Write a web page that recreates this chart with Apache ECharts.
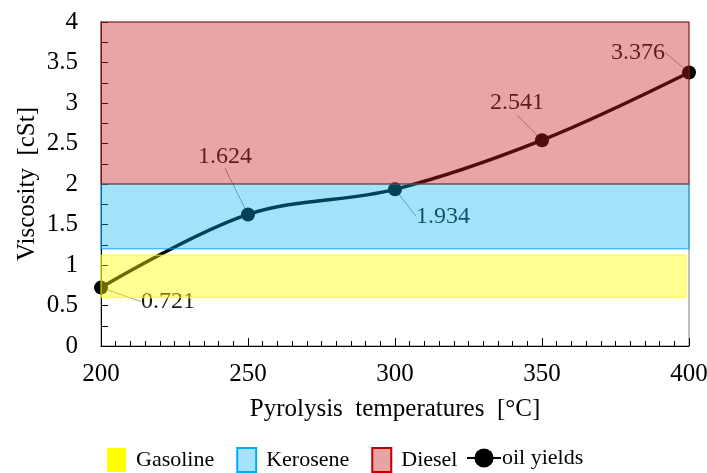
<!DOCTYPE html>
<html>
<head>
<meta charset="utf-8">
<script src="https://cdn.jsdelivr.net/npm/echarts@6/dist/echarts.min.js"></script>
<style>html,body{margin:0;padding:0;background:#fff}#c{width:707px;height:473px}</style>
</head>
<body>
<div id="c"></div>
<script>
// ---- data ----
const temperatures = [200, 250, 300, 350, 400];
const viscosity = [0.721, 1.624, 1.934, 2.541, 3.376];
const bandNames = ['Gasoline', 'Kerosene', 'Diesel'];
const bandStart = [200, 200, 200];
const bandEnd = [399, 400, 400];
const bandLow = [0.6, 1.2, 2.0];
const bandHigh = [1.12, 2.0, 4.0];
const xTicks = [200, 250, 300, 350, 400];
const yTicks = [0, 0.5, 1, 1.5, 2, 2.5, 3, 3.5, 4];

// ---- styles ----
const FONT = '"Liberation Serif", "DejaVu Serif", serif';
const bandFill = ['rgba(255,255,0,0.42)', 'rgba(5,179,242,0.37)', 'rgba(200,30,30,0.40)'];
const bandBorder = ['rgba(255,255,0,0.6)', 'rgba(0,160,230,0.6)', 'rgba(150,30,30,0.6)'];
const legendFill = ['#FFFF00', '#A6E2FA', '#E8A4A4'];
const legendBorder = ['#FFFF00', '#00B0F0', '#C00000'];
const labelDx = [67, -23, 48, -25, -51];
const labelDy = [14, -58, 27, -37, -20];

const chart = echarts.init(document.getElementById('c'), null, {renderer: 'canvas'});

const bandSeries = bandNames.map((name, i) => ({
  name: name,
  type: 'custom',
  z: 10,
  silent: true,
  itemStyle: {color: bandFill[i], borderColor: bandBorder[i], borderWidth: 1.5},
  encode: {x: [0, 1], y: [2, 3]},
  data: [[bandStart[i], bandEnd[i], bandLow[i], bandHigh[i]]],
  renderItem: function (params, api) {
    const p0 = api.coord([api.value(0), api.value(3)]);
    const p1 = api.coord([api.value(1), api.value(2)]);
    return {
      type: 'rect',
      shape: {x: p0[0], y: p0[1], width: p1[0] - p0[0], height: p1[1] - p0[1]},
      style: {fill: bandFill[i], stroke: bandBorder[i], lineWidth: 1.5}
    };
  }
}));

const option = {
  animation: false,
  backgroundColor: '#fff',
  textStyle: {fontFamily: FONT},
  grid: {
    left: 101, right: 18, top: 22, bottom: 127, containLabel: false, outerBoundsMode: 'none',
    show: true, borderColor: '#808080', borderWidth: 1, backgroundColor: 'transparent'
  },
  legend: [
    {
      data: bandNames.map((n, i) => ({
        name: n, icon: 'rect',
        itemStyle: {color: legendFill[i], borderColor: legendBorder[i], borderWidth: i === 0 ? 0 : 2, opacity: 1}
      })),
      left: 107, top: 447, itemWidth: 19, itemHeight: 24, itemGap: 22, padding: 0,
      textStyle: {fontFamily: FONT, fontSize: 22, color: '#000', padding: [0, 0, 0, 5]}
    },
    {
      data: ['oil yields'],
      left: 466, top: 447, itemWidth: 34, itemHeight: 24, padding: 0,
      textStyle: {fontFamily: FONT, fontSize: 22, color: '#000', padding: [0, 0, 0, -4]}
    }
  ],
  xAxis: {
    type: 'value', min: xTicks[0], max: xTicks[xTicks.length - 1], interval: 50,
    name: 'Pyrolysis  temperatures  [°C]', nameLocation: 'middle', nameGap: 51, nameMoveOverlap: false,
    nameTextStyle: {fontFamily: FONT, fontSize: 25, color: '#000'},
    axisLine: {show: true, onZero: false, lineStyle: {color: '#000', width: 1}},
    axisTick: {show: true, inside: true, length: 8, lineStyle: {color: '#000'}},
    minorTick: {show: true, splitNumber: 10, length: 5, lineStyle: {color: '#000'}},
    axisLabel: {fontFamily: FONT, fontSize: 25, color: '#000', margin: 16},
    splitLine: {show: false}
  },
  yAxis: {
    type: 'value', min: yTicks[0], max: yTicks[yTicks.length - 1], interval: 0.5,
    name: 'Viscosity  [cSt]', nameLocation: 'middle', nameGap: 61, nameRotate: 90, nameMoveOverlap: false,
    nameTextStyle: {fontFamily: FONT, fontSize: 25, color: '#000'},
    axisLine: {show: true, onZero: false, lineStyle: {color: '#000', width: 1}},
    axisTick: {show: true, inside: true, length: 7, lineStyle: {color: '#000'}},
    minorTick: {show: true, splitNumber: 2, length: 7, lineStyle: {color: '#000'}},
    axisLabel: {fontFamily: FONT, fontSize: 25, color: '#000', margin: 23},
    splitLine: {show: false}
  },
  series: [
    {
      name: 'oil yields',
      type: 'line',
      z: 3,
      smooth: 0.35,
      clip: false,
      symbol: 'circle',
      symbolSize: 14,
      lineStyle: {color: '#000', width: 3.5},
      itemStyle: {color: '#000'},
      data: temperatures.map((t, i) => [t, viscosity[i]]),
      label: {
        show: true, position: 'inside', fontFamily: FONT, fontSize: 24, color: '#1a1a1a',
        formatter: p => viscosity[p.dataIndex].toFixed(3)
      },
      labelLine: {show: true, lineStyle: {color: '#9a9a9a', width: 1}},
      labelLayout: function (params) {
        return {dx: labelDx[params.dataIndex], dy: labelDy[params.dataIndex]};
      }
    }
  ].concat(bandSeries)
};
chart.setOption(option);
</script>
</body>
</html>
